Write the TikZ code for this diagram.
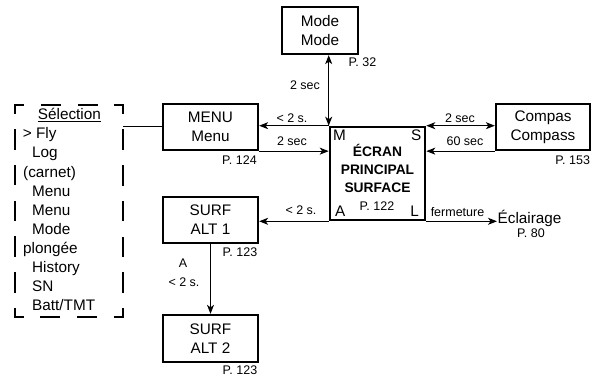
\documentclass[tikz,border=0pt]{standalone}
\usepackage{fontspec}
\setmainfont{Liberation Sans}
\usetikzlibrary{arrows.meta}
\begin{document}
\begin{tikzpicture}[x=1pt,y=-1pt,
  >={Stealth[length=9pt,width=7pt,inset=2.5pt]},
  box/.style={draw, line width=2.3pt, inner sep=0pt, align=center, font=\fontsize{15.3}{19}\selectfont},
  lbl/.style={inner sep=0pt, font=\fontsize{12.5}{14}\selectfont},
  big/.style={inner sep=0pt, font=\fontsize{15.3}{19}\selectfont},
  boldtxt/.style={inner sep=0pt, anchor=base, font=\fontsize{13.8}{18}\selectfont\bfseries},
  conn/.style={line width=1pt},
  selline/.style={big, anchor=base west},
  selside/.style={line width=2.6pt, line cap=rect}
]
\useasboundingbox (0,0) rectangle (600,377);

% boxes
\node[box, minimum width=76pt, minimum height=47pt] (mode) at (320,30.5) {Mode\\Mode};
\node[box, minimum width=95pt, minimum height=46pt] (menu) at (210.5,127) {MENU\\Menu};
\node[box, minimum width=94pt, minimum height=46pt] (comp) at (543,127) {Compas\\Compass};
\node[box, line width=2.6pt, minimum width=95pt, minimum height=93pt] (main) at (377.5,173.5) {};
\node[box, minimum width=95pt, minimum height=46pt] (alt1) at (210.5,220) {SURF\\ALT 1};
\node[box, minimum width=95pt, minimum height=47pt] (alt2) at (210.5,338.5) {SURF\\ALT 2};
\node[inner sep=0pt, outer sep=0pt, minimum width=108pt, minimum height=212pt] (sel) at (69,211) {};
\node[big, anchor=west, inner sep=0.5pt] (ecl) at (497,218) {Éclairage};

% main box texts
\node[boldtxt] (t1) at (377.5,157) {ÉCRAN};
\node[boldtxt] (t2) at (377.5,175) {PRINCIPAL};
\node[boldtxt] (t3) at (377.5,193) {SURFACE};
\node[lbl] (p122) at (377,206) {P. 122};
\node[big, anchor=base west] (cm) at (333,140.5) {M};
\node[big, anchor=base east] (cs) at (421.5,140.5) {S};
\node[big, anchor=base west] (ca) at (335,216.5) {A};
\node[big, anchor=base east] (cl) at (419,216.5) {L};

% dashed selection box
\draw[selside, dash pattern=on 8pt off 19pt on 18pt off 19pt on 18pt off 18pt on 8pt off 300pt] (sel.north west) -- (sel.north east);
\draw[selside, dash pattern=on 8pt off 19pt on 18pt off 19pt on 18pt off 18pt on 8pt off 300pt] (sel.south east) -- (sel.south west);
\draw[selside, dash pattern=on 8pt off 17.7pt on 18pt off 17.7pt on 18pt off 17.7pt on 18pt off 17.7pt on 18pt off 17.7pt on 18pt off 17.7pt on 8pt off 300pt] (sel.north east) -- (sel.south east);
\draw[selside, dash pattern=on 8pt off 17.7pt on 18pt off 17.7pt on 18pt off 17.7pt on 18pt off 17.7pt on 18pt off 17.7pt on 18pt off 17.7pt on 8pt off 300pt] (sel.south west) -- (sel.north west);

\node[selline] (s0) at (37.7,119.8) {\underline{Sélection}};
\node[selline] (s1) at (22.7,138.9) {> Fly};
\node[selline] (s2) at (32,158.0) {Log};
\node[selline] (s3) at (23,177.1) {(carnet)};
\node[selline] (s4) at (32,196.2) {Menu};
\node[selline] (s5) at (32,215.3) {Menu};
\node[selline] (s6) at (32,234.4) {Mode};
\node[selline] (s7) at (23,253.5) {plongée};
\node[selline] (s8) at (32,272.6) {History};
\node[selline] (s9) at (32,291.7) {SN};
\node[selline] (s10) at (32,310.8) {Batt/TMT};

% page labels
\node[lbl] (p32) at (362.5,62) {P. 32};
\node[lbl] (p124) at (239.5,160) {P. 124};
\node[lbl] (p153) at (572.7,160) {P. 153};
\node[lbl] (p123a) at (240,252) {P. 123};
\node[lbl] (p123b) at (240,370) {P. 123};
\node[lbl] (p80) at (531,233) {P. 80};

% connector labels
\node[lbl] (lmode) at (305,85) {2 sec};
\node[lbl] (lm1) at (292,118) {< 2 s.};
\node[lbl] (lm2) at (292,141) {2 sec};
\node[lbl] (lc1) at (460,118) {2 sec};
\node[lbl] (lc2) at (465,141) {60 sec};
\node[lbl] (la) at (301,210) {< 2 s.};
\node[lbl] (lf) at (457.5,212) {fermeture};
\node[lbl] (lv1) at (183,263) {A};
\node[lbl] (lv2) at (184,282) {< 2 s.};

% connectors
\draw[conn, <->] (main.north west) -- (mode.south -| main.north west);
\draw[conn, ->] (main.north west) -- (menu.east |- main.north west);
\draw[conn, ->] (menu.south east) -- (main.west |- menu.south east);
\draw[conn, <->] (main.north east) -- (comp.west |- main.north east);
\draw[conn, ->] (comp.south west) -- (main.east |- comp.south west);
\draw[conn, ->] (main.south west) -- (alt1.east |- main.south west);
\draw[conn, ->] (main.south east) -- (ecl.west |- main.south east);
\draw[conn, ->] (alt1.south) -- (alt2.north);
\draw[conn] (menu.west) -- (sel.east |- menu.west);
\end{tikzpicture}
\end{document}
